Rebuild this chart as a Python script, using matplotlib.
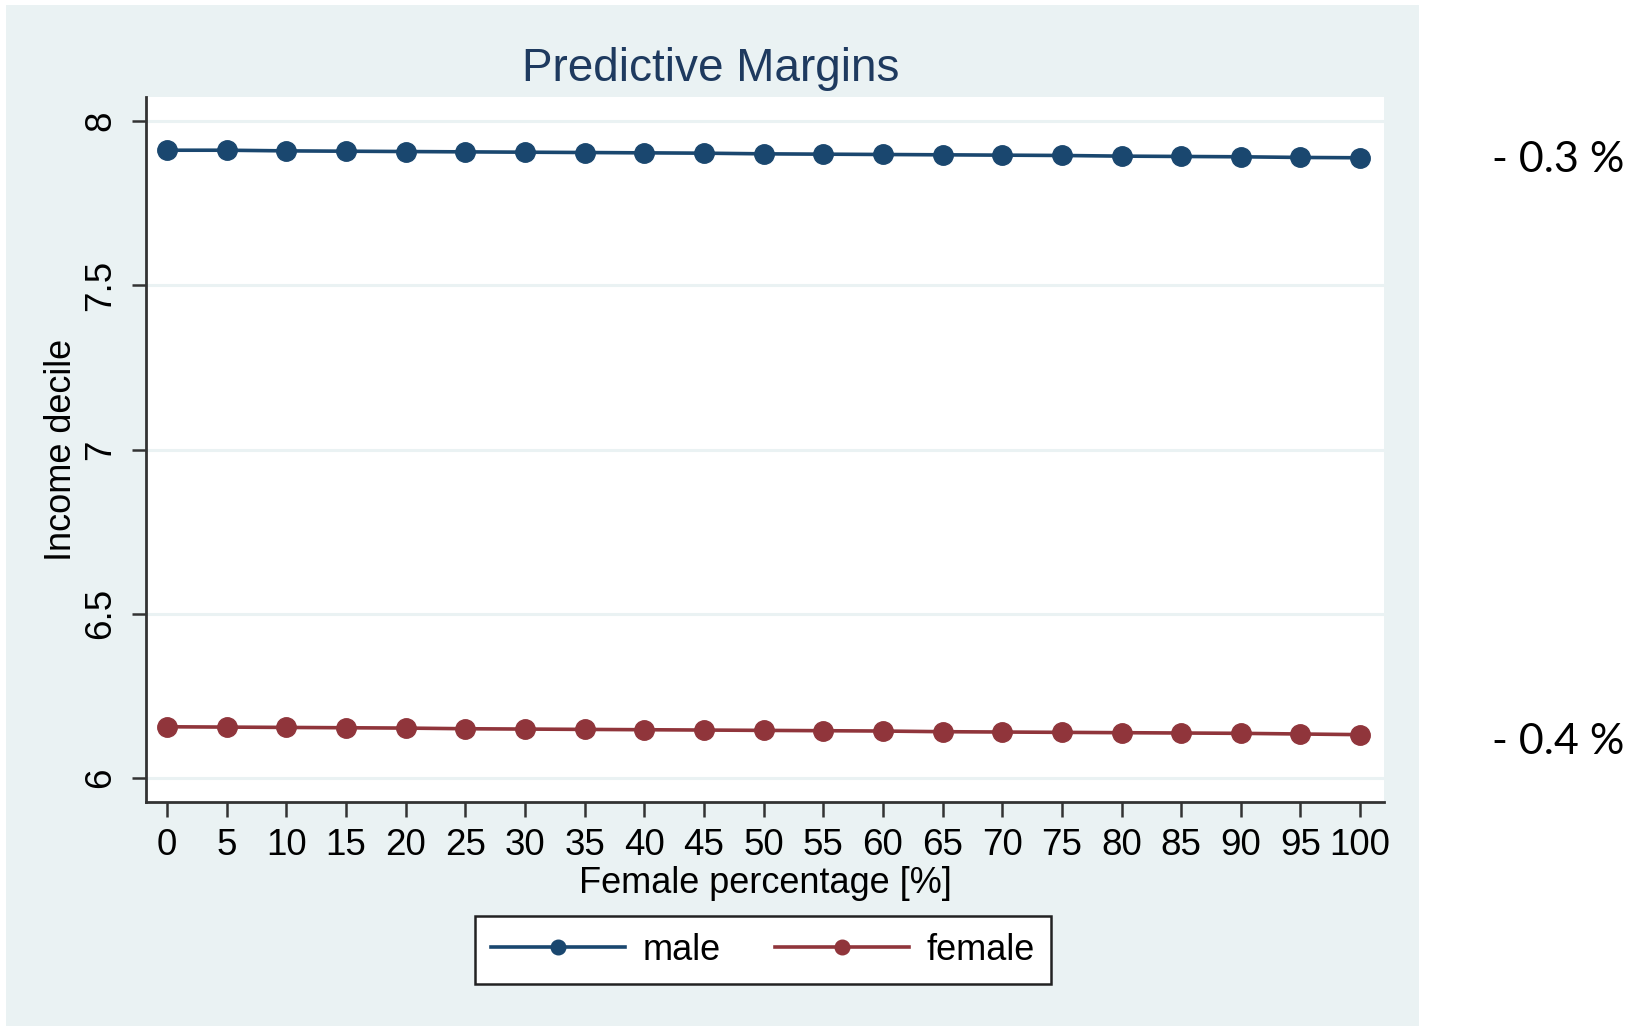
import matplotlib
matplotlib.use("Agg")
import matplotlib.pyplot as plt
from matplotlib.patches import Rectangle

# ---- data ----
female_pct = [0, 5, 10, 15, 20, 25, 30, 35, 40, 45, 50, 55, 60, 65, 70, 75, 80, 85, 90, 95, 100]
male = [7.911, 7.911, 7.909, 7.908, 7.907, 7.906, 7.905, 7.904, 7.903, 7.902, 7.900,
        7.899, 7.898, 7.897, 7.896, 7.895, 7.893, 7.892, 7.891, 7.889, 7.888]
female = [6.156, 6.155, 6.154, 6.153, 6.152, 6.150, 6.149, 6.148, 6.147, 6.146, 6.145,
          6.144, 6.143, 6.141, 6.140, 6.139, 6.138, 6.137, 6.136, 6.134, 6.132]
y_ticks = [6, 6.5, 7, 7.5, 8]
y_ticklabels = ["6", "6.5", "7", "7.5", "8"]
series_labels = ["male", "female"]
annotations = ["- 0.3 %", "- 0.4 %"]

MALE_C = "#1a476f"
FEMALE_C = "#90353b"
BG = "#eaf2f3"

plt.rcParams['font.family'] = ['Liberation Sans', 'DejaVu Sans']

fig = plt.figure(figsize=(16.38, 10.27), dpi=100)
fig.patch.set_facecolor("white")

# outer Stata background
bg = Rectangle((6 / 1638, 1 - 1026 / 1027), (1419 - 6) / 1638, (1026 - 5) / 1027,
               transform=fig.transFigure, facecolor=BG, edgecolor="none", zorder=-10)
fig.patches.append(bg)

ax = fig.add_axes([146 / 1638, 1 - 802 / 1027, (1384 - 146) / 1638, (802 - 97) / 1027])
ax.set_zorder(1)
ax.set_facecolor("white")

ax.plot(female_pct, male, color=MALE_C, lw=2.6, marker="o", markersize=14, label=series_labels[0], zorder=3)
ax.plot(female_pct, female, color=FEMALE_C, lw=2.6, marker="o", markersize=14, label=series_labels[1], zorder=3)

ax.set_xlim(-1.76, 102.0)
ax.set_ylim(5.927, 8.073)
ax.set_xticks(female_pct)
ax.set_xticklabels([str(v) for v in female_pct], fontsize=26.5)
ax.set_yticks(y_ticks)
ax.set_yticklabels(y_ticklabels, fontsize=26.5, rotation=90, va="center")
ax.yaxis.grid(True, color=BG, lw=2.2, zorder=1)
ax.set_axisbelow(True)

for s in ["top", "right"]:
    ax.spines[s].set_visible(False)
for s in ["left", "bottom"]:
    ax.spines[s].set_color("#333333")
    ax.spines[s].set_linewidth(2)
ax.tick_params(axis="x", length=11, width=1.8, color="#333333", pad=8)
ax.tick_params(axis="y", length=10, width=1.8, color="#333333", pad=10)

ax.set_xlabel("Female percentage [%]", fontsize=26, labelpad=2)
ax.set_ylabel("Income decile", fontsize=26, labelpad=3)

fig.text(711 / 1638, 1 - 69 / 1027, "Predictive Margins", fontsize=33, color="#1e3a5f",
         ha="center", va="center")

leg = fig.legend(loc="center", bbox_to_anchor=(763 / 1638, 1 - 950 / 1027), ncol=2,
                 fontsize=26, frameon=True, fancybox=False, handlelength=3.7,
                 markerscale=0.75, columnspacing=1.5, borderpad=0.45, handletextpad=0.5,
                 borderaxespad=0)
leg.get_frame().set_edgecolor("#222222")
leg.get_frame().set_linewidth(1.8)
leg.get_frame().set_facecolor("white")
leg.get_frame().set_alpha(1)

fig.text(1492 / 1638, 1 - 160 / 1027, annotations[0], fontsize=31, family=["Lato", "DejaVu Sans"],
         ha="left", va="center", color="black")
fig.text(1492 / 1638, 1 - 742 / 1027, annotations[1], fontsize=31, family=["Lato", "DejaVu Sans"],
         ha="left", va="center", color="black")

fig.savefig("out.png", dpi=100, facecolor=fig.get_facecolor())
